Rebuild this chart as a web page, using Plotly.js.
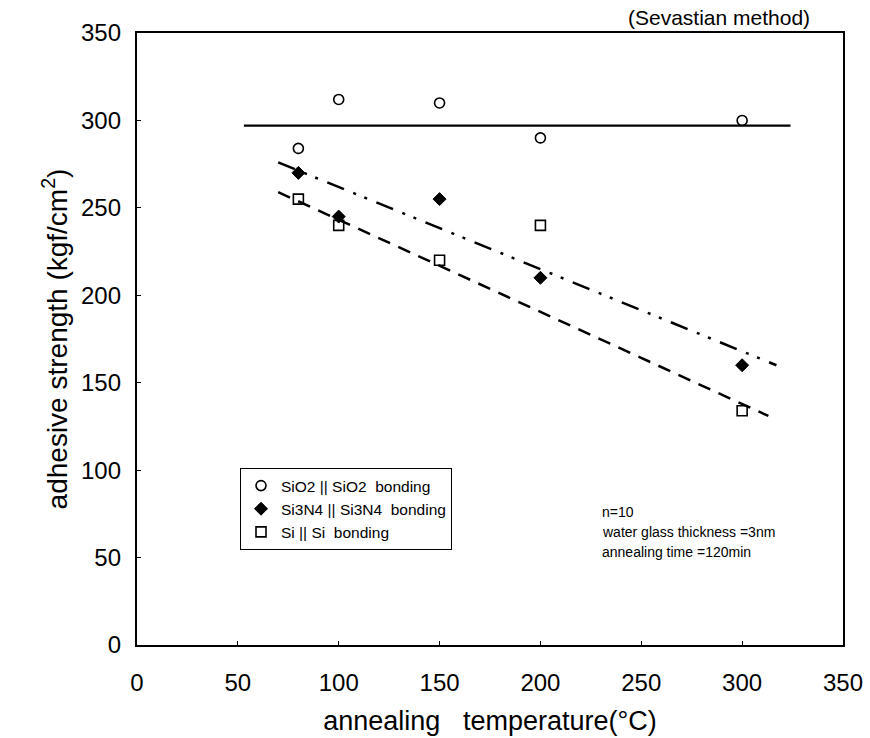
<!DOCTYPE html>
<html>
<head>
<meta charset="utf-8">
<script src="https://cdn.plot.ly/plotly-3.0.1.min.js"></script>
<style>html,body{margin:0;padding:0;background:#fff;}#chart{width:870px;height:738px;}</style>
</head>
<body>
<div id="chart"></div>
<script>
// ---- data ----
const temps = [80, 100, 150, 200, 300];
const sio2 = [284, 312, 310, 290, 300];
const si3n4 = [270, 245, 255, 210, 160];
const si = [255, 240, 220, 240, 134];

// fitted / guide lines (end points)
const sio2LineX = [53, 324];
const sio2LineY = [297, 297];
const si3n4LineX = [70, 317];
const si3n4LineY = [276, 160];
const siLineX = [70, 313];
const siLineY = [259, 131];

const seriesNames = ["SiO2 || SiO2  bonding", "Si3N4 || Si3N4  bonding", "Si || Si  bonding"];
const tickVals = [0, 50, 100, 150, 200, 250, 300, 350];
const notes = ["n=10", "water glass thickness =3nm", "annealing time =120min"];

const FONT = "Liberation Sans, Arial, sans-serif";

const traces = [
  {x: sio2LineX, y: sio2LineY, mode: "lines", showlegend: false, hoverinfo: "skip",
   line: {color: "#000", width: 2.2}},
  {x: si3n4LineX, y: si3n4LineY, mode: "lines", showlegend: false, hoverinfo: "skip",
   line: {color: "#000", width: 2.5, dash: "18px,10px,3px,9px,3px,10px"}},
  {x: siLineX, y: siLineY, mode: "lines", showlegend: false, hoverinfo: "skip",
   line: {color: "#000", width: 2.5, dash: "13px,9px"}},
  {x: temps, y: sio2, mode: "markers", name: seriesNames[0],
   marker: {symbol: "circle-open", size: 10, color: "#000", line: {width: 1.6, color: "#000"}}},
  {x: temps, y: si3n4, mode: "markers", name: seriesNames[1],
   marker: {symbol: "diamond", size: 10, color: "#000", line: {width: 1, color: "#000"}}},
  {x: temps, y: si, mode: "markers", name: seriesNames[2],
   marker: {symbol: "square-open", size: 10, color: "#000", line: {width: 1.6, color: "#000"}}}
];

const noteY = [512, 532, 552];
const annotations = notes.map((t, i) => ({
  text: t, xref: "paper", yref: "paper", x: (600 - 137) / 706, y: (645 - noteY[i]) / 612,
  xanchor: "left", yanchor: "middle", showarrow: false,
  font: {family: FONT, size: 14, color: "#000"}
}));
annotations.push({
  text: "(Sevastian method)", xref: "paper", yref: "paper", x: (719 - 137) / 706, y: (645 - 17) / 612,
  xanchor: "center", yanchor: "middle", showarrow: false,
  font: {family: FONT, size: 21, color: "#000"}
});

const layout = {
  width: 870, height: 738,
  margin: {l: 137, r: 27, t: 33, b: 93},
  paper_bgcolor: "#fff", plot_bgcolor: "#fff",
  font: {family: FONT, color: "#000"},
  xaxis: {
    range: [0, 350], tickvals: tickVals, ticks: "inside", ticklen: 4, tickwidth: 1, tickcolor: "#000",
    showline: true, linecolor: "#000", linewidth: 2.2, mirror: true, showgrid: false, zeroline: false,
    tickfont: {family: FONT, size: 24}, ticklabelstandoff: 15,
    title: {text: "annealing\u00a0\u00a0 temperature(°C)", font: {family: FONT, size: 27}, standoff: 16}
  },
  yaxis: {
    range: [0, 350], tickvals: tickVals, ticks: "inside", ticklen: 4, tickwidth: 1, tickcolor: "#000",
    showline: true, linecolor: "#000", linewidth: 2.2, mirror: true, showgrid: false, zeroline: false,
    tickfont: {family: FONT, size: 24}, ticklabelstandoff: 9,
    title: {text: "\u00a0\u00a0\u00a0\u00a0\u00a0\u00a0\u00a0\u00a0adhesive strength (kgf/cm<sup>2</sup>)", font: {family: FONT, size: 28}, standoff: 5}
  },
  legend: {
    x: (240 - 137) / 706, y: (645 - 468) / 612, xanchor: "left", yanchor: "top",
    bgcolor: "#fff", bordercolor: "#000", borderwidth: 1,
    font: {family: FONT, size: 15.5, color: "#000"}, itemwidth: 30, tracegroupgap: 0
  },
  annotations: annotations,
  showlegend: true
};

Plotly.newPlot("chart", traces, layout, {displayModeBar: false, staticPlot: true});
</script>
</body>
</html>
